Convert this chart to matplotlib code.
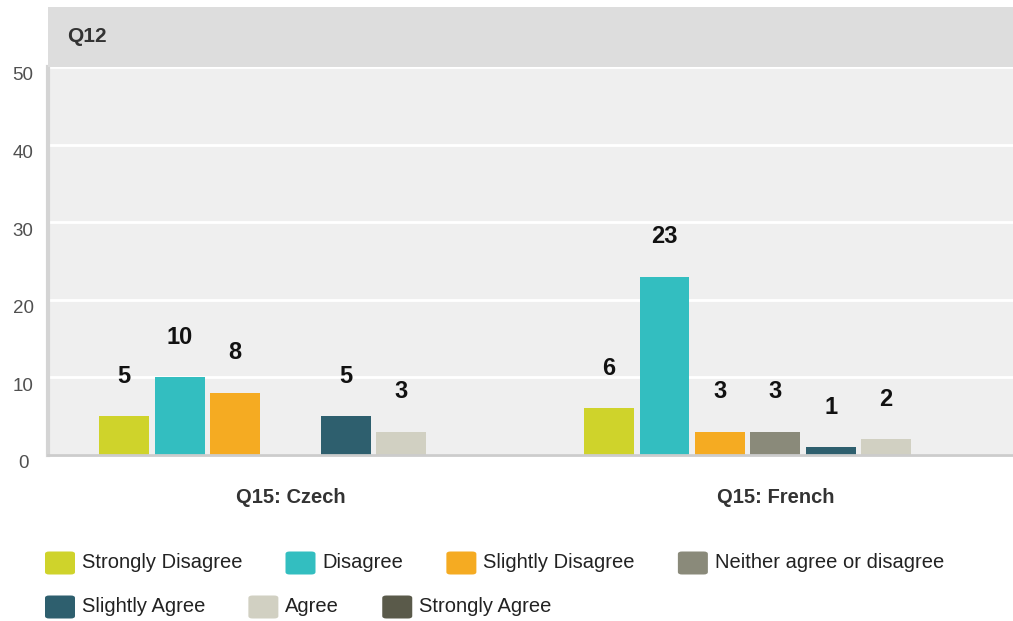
import matplotlib
matplotlib.use("Agg")
import matplotlib.pyplot as plt
import matplotlib.transforms as mtransforms
from matplotlib.patches import FancyBboxPatch, Rectangle
import numpy as np

plt.rcParams['font.family'] = ['Liberation Sans', 'DejaVu Sans']

title = "Q12"
groups = ["Q15: Czech", "Q15: French"]
responses = ["Strongly Disagree", "Disagree", "Slightly Disagree",
             "Neither agree or disagree", "Slightly Agree", "Agree",
             "Strongly Agree"]
czech = [5, 10, 8, 0, 5, 3, 0]
french = [6, 23, 3, 3, 1, 2, 0]
colors = ["#cfd32b", "#33bec0", "#f5ab22", "#8a8a7a", "#2e5f6e",
          "#d1d0c2", "#5a5a4a"]
y_ticks = [0, 10, 20, 30, 40, 50]

W, H = 1013, 621
fig = plt.figure(figsize=(W / 100, H / 100), dpi=100)
fig.patch.set_facecolor("white")

ax_left, ax_bottom = 48 / W, (H - 455) / H
ax_top = (H - 67) / H
ax = fig.add_axes([ax_left, ax_bottom, 1 - ax_left, ax_top - ax_bottom])
ax.set_facecolor("#efefef")

# header band with the question title
hdr_top = (H - 7) / H
fig.patches.append(Rectangle((ax_left, ax_top), 1 - ax_left, hdr_top - ax_top,
                             transform=fig.transFigure, facecolor="#dddddd",
                             edgecolor="none", zorder=0))
fig.text(67 / W, (ax_top + hdr_top) / 2, title, fontsize=15, fontweight="bold",
         color="#333333", va="center", ha="left")

values = np.array([czech, french])
n = len(responses)
slot = 0.8 / n
bar_w = slot * 0.9
x = np.arange(len(groups))
label_off = mtransforms.offset_copy(ax.transData, fig=fig, x=0, y=40, units="dots")
for i in range(n):
    xs = x - 0.4 + slot * (i + 0.5)
    ax.bar(xs, values[:, i], width=bar_w, color=colors[i], zorder=3)
    for xi, v in zip(xs, values[:, i]):
        if v > 0:
            ax.text(xi, v, str(v), transform=label_off, ha="center", va="center",
                    fontsize=17, fontweight="bold", color="#111111", zorder=4)

ax.set_xlim(-0.5, 1.49)
ax.set_ylim(0, 50)
ax.set_yticks(y_ticks)
ax.yaxis.grid(True, color="white", linewidth=2, zorder=1)
ax.set_axisbelow(True)
ax.tick_params(axis="y", length=0, pad=18, labelsize=13.5, labelcolor="#505050")
shift = mtransforms.ScaledTranslation(0, -7 / 100, fig.dpi_scale_trans)
for lbl in ax.get_yticklabels():
    lbl.set_horizontalalignment("center")
    lbl.set_transform(lbl.get_transform() + shift)
ax.set_xticks(x)
ax.set_xticklabels(groups, fontsize=14.5, fontweight="bold", color="#333333")
ax.tick_params(axis="x", length=0, pad=24)

for s in ["top", "right"]:
    ax.spines[s].set_visible(False)
ax.spines["bottom"].set_color("#cccccc")
ax.spines["bottom"].set_linewidth(2)
ax.spines["left"].set_color("#d4d4d4")
ax.spines["left"].set_linewidth(3)
ax.spines["bottom"].set_zorder(5)

# legend laid out as a flowing row of swatches
fig.canvas.draw()
renderer = fig.canvas.get_renderer()
rows = [[0, 1, 2, 3], [4, 5, 6]]
row_y = [563, 607]
sw_w, sw_h = 30, 23
for row, yc in zip(rows, row_y):
    xpos = 45
    for i in row:
        fig.patches.append(FancyBboxPatch((xpos / W, (H - yc - sw_h / 2) / H),
                                          sw_w / W, sw_h / H,
                                          boxstyle="round,pad=0,rounding_size=0.004",
                                          transform=fig.transFigure,
                                          facecolor=colors[i], edgecolor="none"))
        t = fig.text((xpos + sw_w + 7) / W, (H - yc) / H, responses[i],
                     fontsize=14.5, color="#222222", va="center", ha="left")
        bb = t.get_window_extent(renderer)
        xpos = bb.x1 + 43

fig.savefig("out.png", dpi=100)
